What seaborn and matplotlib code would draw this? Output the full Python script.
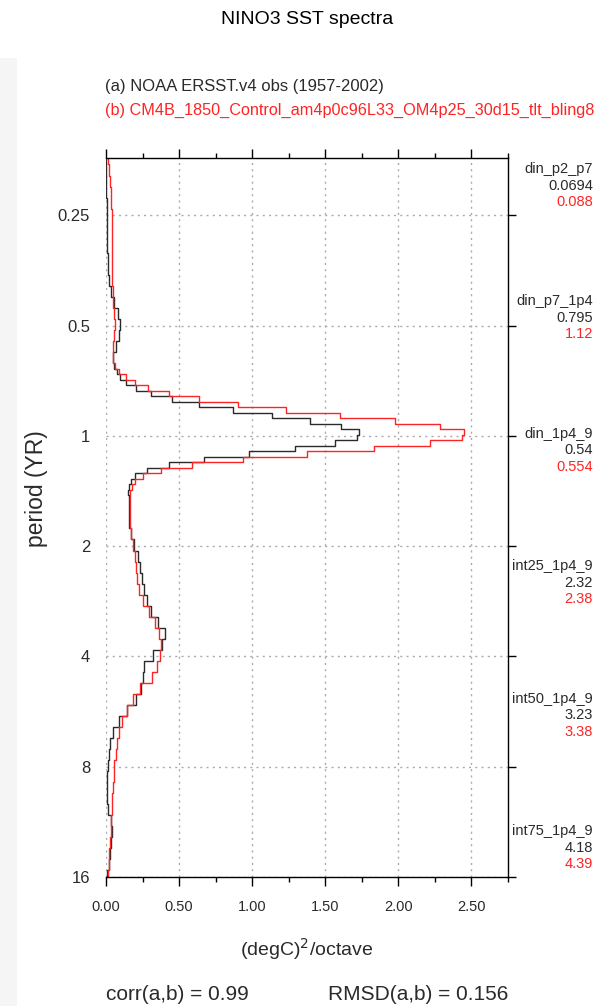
import numpy as np
import pandas as pd
import seaborn as sns
import matplotlib.pyplot as plt
from matplotlib.ticker import MultipleLocator, NullLocator
from matplotlib.patches import Rectangle

# Period bin edges in log2(years): 0.1-octave bins, 0.05 around the annual peak
edges_short = np.linspace(-2.56, -0.66, 20)
edges_peak = np.linspace(-0.66, 0.54, 25)
edges_long = np.linspace(0.54, 4.04, 36)
log2_edges = np.concatenate([edges_short, edges_peak[1:], edges_long[1:]])

# Spectral power per bin, (degC)^2/octave -- (a) observations
obs_short = [0.001, 0.002, 0.002, 0.003, 0.005, 0.005, 0.007, 0.008, 0.009, 0.011,
             0.016, 0.023, 0.034, 0.057, 0.084, 0.098, 0.087, 0.068, 0.046]
obs_peak = [0.055, 0.073, 0.096, 0.137, 0.203, 0.306, 0.450, 0.637, 0.872, 1.135,
            1.397, 1.607, 1.728, 1.717, 1.564, 1.295, 0.975, 0.673, 0.434, 0.279,
            0.199, 0.169, 0.158, 0.153]
obs_long = [0.160, 0.158, 0.160, 0.169, 0.194, 0.219, 0.233, 0.244, 0.260, 0.279,
            0.306, 0.354, 0.402, 0.381, 0.320, 0.263, 0.256, 0.240, 0.203, 0.146,
            0.088, 0.046, 0.030, 0.021, 0.011, 0.007, 0.005, 0.007, 0.014, 0.032,
            0.039, 0.034, 0.027, 0.018, 0.007]

# (b) CM4B control run
model_short = [0.016, 0.023, 0.027, 0.032, 0.037, 0.039, 0.041, 0.041, 0.041, 0.041,
               0.041, 0.043, 0.046, 0.050, 0.057, 0.059, 0.055, 0.050, 0.046]
model_peak = [0.062, 0.091, 0.135, 0.199, 0.290, 0.432, 0.637, 0.900, 1.233, 1.603,
              1.979, 2.283, 2.452, 2.436, 2.215, 1.831, 1.374, 0.936, 0.591, 0.377,
              0.256, 0.199, 0.176, 0.164]
model_long = [0.167, 0.164, 0.164, 0.174, 0.185, 0.196, 0.205, 0.212, 0.226, 0.256,
              0.297, 0.338, 0.361, 0.377, 0.370, 0.347, 0.313, 0.233, 0.187, 0.142,
              0.110, 0.089, 0.075, 0.066, 0.057, 0.052, 0.048, 0.043, 0.041, 0.037,
              0.032, 0.027, 0.023, 0.018, 0.011]

obs_power = obs_short + obs_peak + obs_long
model_power = model_short + model_peak + model_long

period_ticks = [0.25, 0.5, 1, 2, 4, 8, 16]
period_labels = ['0.25', '0.5', '1', '2', '4', '8', '16']
power_ticks = [0.0, 0.5, 1.0, 1.5, 2.0, 2.5]
power_labels = ['0.00', '0.50', '1.00', '1.50', '2.00', '2.50']

obs_name = '(a) NOAA ERSST.v4 obs (1957-2002)'
model_name = '(b) CM4B_1850_Control_am4p0c96L33_OM4p25_30d15_tlt_bling8'

metric_names = ['din_p2_p7', 'din_p7_1p4', 'din_1p4_9', 'int25_1p4_9', 'int50_1p4_9', 'int75_1p4_9']
metric_obs = ['0.0694', '0.795', '0.54', '2.32', '3.23', '4.18']
metric_model = ['0.088', '1.12', '0.554', '2.38', '3.38', '4.39']
corr_ab = '0.99'
rmsd_ab = '0.156'

BLACK = '#2a2a2a'
RED = '#ff2424'


def step_frame(power, name):
    # each bin becomes a vertical segment between its two period edges
    y = np.repeat(log2_edges, 2)[1:-1]
    x = np.repeat(power, 2)
    return pd.DataFrame({'power': x, 'period': 2.0 ** y, 'source': name})


df = pd.concat([step_frame(obs_power, 'obs'), step_frame(model_power, 'model')],
               ignore_index=True)

sns.set_style('white')
plt.rcParams['font.family'] = ['Liberation Sans', 'DejaVu Sans']

W, H = 603, 1006
fig = plt.figure(figsize=(W / 100, H / 100), dpi=100)
fig.patches.append(Rectangle((0, 0), 17 / W, 1 - 58 / H, transform=fig.transFigure,
                             facecolor='#f5f5f5', edgecolor='none', zorder=-5))

ax = fig.add_axes([106 / W, 1 - 877 / H, 402 / W, 719 / H])
ax.set_axisbelow(True)

sns.lineplot(data=df, x='power', y='period', hue='source',
             palette={'obs': BLACK, 'model': RED}, sort=False, estimator=None,
             legend=False, linewidth=1.0, ax=ax)

ax.set_yscale('log', base=2)
ax.set_ylim(16, 0.1745)
ax.set_xlim(0, 2.75)

ax.set_xticks(power_ticks, power_labels)
ax.xaxis.set_minor_locator(MultipleLocator(0.25))
ax.set_yticks(period_ticks, period_labels)
ax.yaxis.set_minor_locator(NullLocator())

ax.tick_params(axis='x', which='both', bottom=True, top=True, direction='out',
               color='black', width=1.0, labelsize=10.5, labelcolor=BLACK, pad=10)
ax.tick_params(axis='x', which='major', length=6.5)
ax.tick_params(axis='x', which='minor', length=3.3)
ax.tick_params(axis='y', which='major', left=False, right=True, direction='out',
               color='black', width=1.0, length=6, labelsize=12, labelcolor=BLACK, pad=5.5)

ax.grid(True, which='major', color='#ababab', linestyle=(0, (1.5, 3)), linewidth=1.0)

ax.spines['left'].set_visible(False)
for side in ['top', 'bottom', 'right']:
    ax.spines[side].set_color('black')
    ax.spines[side].set_linewidth(1.0)

ax.set_xlabel('(degC)$^2$/octave', fontsize=14, color=BLACK)
ax.xaxis.set_label_coords(0.5, -0.082)
ax.set_ylabel('')

# titles and text
fig.text(307 / W, 1 - 24 / H, 'NINO3 SST spectra', fontsize=14, color='black',
         ha='center', va='baseline')
fig.text(105 / W, 1 - 91.5 / H, obs_name, fontsize=12, color=BLACK, ha='left', va='baseline')
fig.text(105 / W, 1 - 114.5 / H, model_name, fontsize=11.7, color=RED, ha='left', va='baseline')
fig.text(36 / W, 1 - 489 / H, 'period (YR)', fontsize=16.5, color=BLACK, rotation=90,
         ha='center', va='center')

for i, name in enumerate(metric_names):
    base = 173 + 132.4 * i
    fig.text(593 / W, 1 - base / H, name, fontsize=10.5, color=BLACK, ha='right', va='baseline')
    fig.text(593 / W, 1 - (base + 16.5) / H, metric_obs[i], fontsize=10.5, color=BLACK,
             ha='right', va='baseline')
    fig.text(593 / W, 1 - (base + 33) / H, metric_model[i], fontsize=10.5, color=RED,
             ha='right', va='baseline')

fig.text(106 / W, 1 - 1000 / H, 'corr(a,b) = ' + corr_ab, fontsize=15, color=BLACK,
         ha='left', va='baseline')
fig.text(508 / W, 1 - 1000 / H, 'RMSD(a,b) = ' + rmsd_ab, fontsize=15, color=BLACK,
         ha='right', va='baseline')

fig.savefig('out.png', dpi=100)
